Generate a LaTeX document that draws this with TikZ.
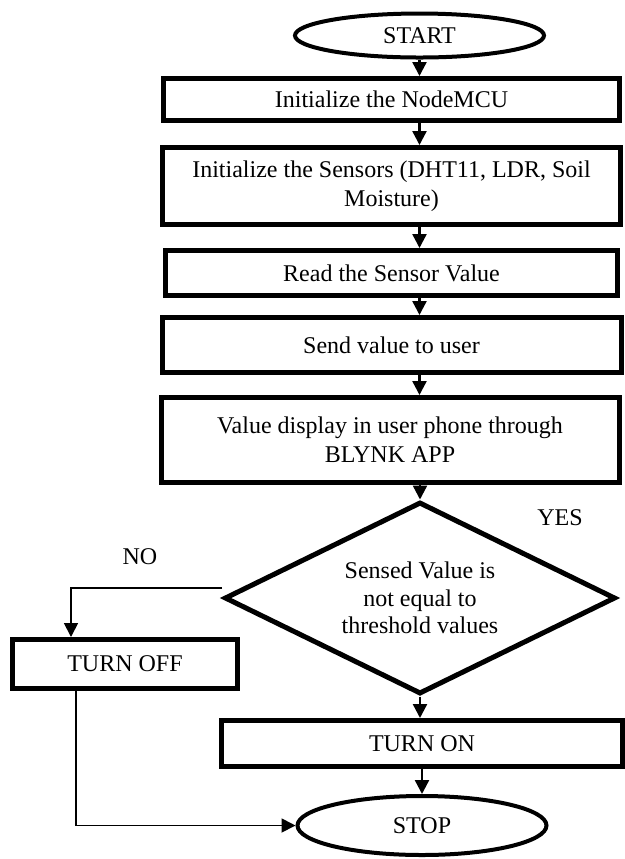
\documentclass[tikz,border=0pt]{standalone}
\usepackage{fontspec}
\setmainfont{Liberation Serif}
\usetikzlibrary{shapes.geometric,arrows.meta}

\tikzstyle{terminal} = [ellipse, minimum width=124.5pt, minimum height=22pt, inner sep=1pt, draw=black, line width=2pt]
\tikzstyle{process} = [rectangle, minimum width=228pt, minimum height=21pt, align=center, draw=black, line width=2.5pt]
\tikzstyle{decision} = [diamond, aspect=2, minimum width=195.5pt, minimum height=96pt, inner sep=0pt, align=center, draw=black, line width=2.5pt]
\tikzstyle{flow} = [line width=1.2pt,-{Triangle[length=7pt,width=7pt]}]
\tikzstyle{branch} = [line width=0.9pt,-{Triangle[length=7pt,width=7pt]}]

\begin{document}
\begin{tikzpicture}[x=1pt, y=1pt, node distance=40pt, font=\fontsize{12}{14.5}\selectfont]
      \useasboundingbox (0,0) rectangle (312.5,-429.5);
      \node (start) [terminal] at (209.75,-17.75) {START};
      \node (init) [process, below of=start, xshift=-14pt, yshift=8pt] {Initialize the NodeMCU};
      \node (sensors) [process, minimum width=229pt, minimum height=38.5pt, below of=init, yshift=-3.25pt] {Initialize the Sensors (DHT11, LDR, Soil\\Moisture)};
      \node (read) [process, minimum width=226pt, minimum height=22.5pt, below of=sensors, yshift=-3.5pt] {Read the Sensor Value};
      \node (send) [process, minimum width=229.5pt, minimum height=27.5pt, below of=read, yshift=4pt] {Send value to user};
      \node (display) [process, minimum width=229pt, minimum height=42.5pt, below of=send, xshift=-0.75pt, yshift=-7.5pt] {Value display in user phone through\\BLYNK APP};
      \node (check) [decision, below of=display, xshift=15pt, yshift=-39pt, font=\fontsize{12}{13.75}\selectfont] {Sensed Value is\\not equal to\\threshold values};
      \node (on) [process, minimum width=200.5pt, minimum height=23pt, below of=check, xshift=1pt, yshift=-32.75pt] {TURN ON};
      \node (stop) [terminal, minimum height=29.5pt, below of=on, yshift=-1pt] {STOP};
      \node (off) [process, minimum width=112.5pt, minimum height=24.5pt, left of=check, xshift=-107.5pt, yshift=-33pt] {TURN OFF};
      \node (yes) at (280,-259) {YES};
      \node (no) at (70,-278.5) {NO};

      \draw [flow] (start.south) -- (start.south |- init.north);
      \draw [flow] (init.south -| start) -- (sensors.north -| start);
      \draw [flow] (sensors.south -| start) -- (read.north -| start);
      \draw [flow] (read.south -| start) -- (send.north -| start);
      \draw [flow] (send.south -| start) -- (display.north -| start);
      \draw [flow] (display.south -| check) -- (check.north);
      \draw [flow] (check.south) -- (on.north -| check);
      \draw [flow] (on.south -| stop) -- (stop.north);
      \draw [branch] ([yshift=5pt]check.west) -| ([xshift=-27pt]off.north);
      \draw [branch] ([xshift=-24.5pt]off.south) |- (stop.west);
    \end{tikzpicture}
\end{document}
